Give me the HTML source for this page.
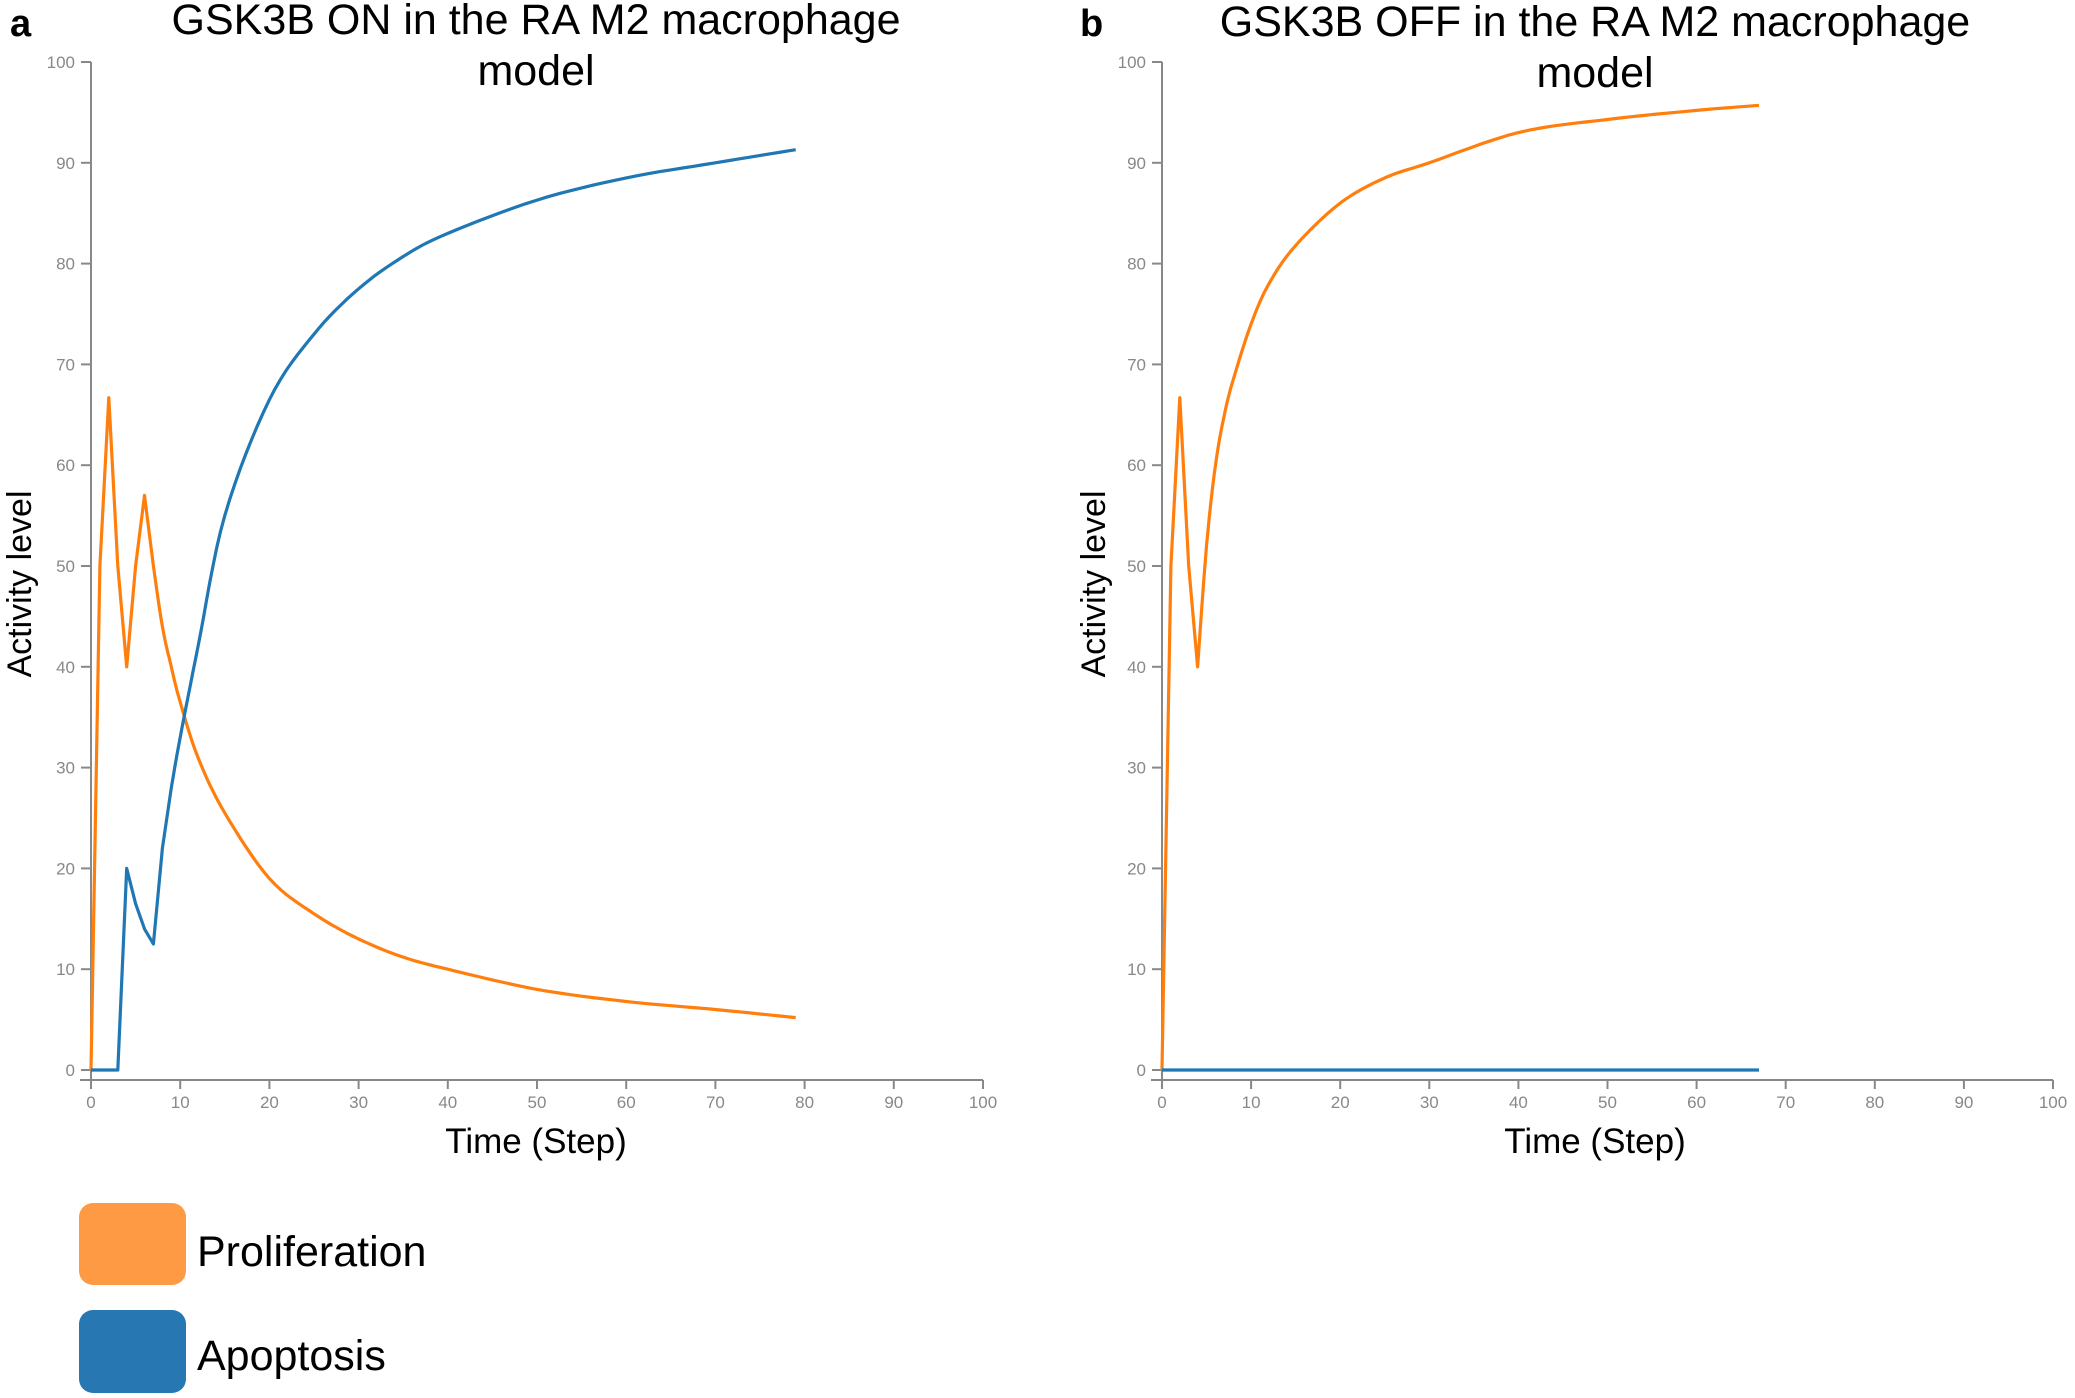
<!DOCTYPE html>
<html><head><meta charset="utf-8"><style>
html,body{margin:0;padding:0;background:#fff;}
svg{display:block;font-family:"Liberation Sans",Arial,sans-serif;}
</style></head><body>
<svg id="s" width="2075" height="1398" viewBox="0 0 2075 1398" xmlns="http://www.w3.org/2000/svg">
<text x="10" y="36" font-size="38" font-weight="bold">a</text>
<text x="536" y="34" font-size="43" text-anchor="middle">GSK3B ON in the RA M2 macrophage</text>
<text x="536" y="85" font-size="43" text-anchor="middle">model</text>
<text x="1080" y="36" font-size="38" font-weight="bold">b</text>
<text x="1595" y="36" font-size="43" text-anchor="middle">GSK3B OFF in the RA M2 macrophage</text>
<text x="1595" y="87" font-size="43" text-anchor="middle">model</text>
<text transform="translate(31,584) rotate(-90)" font-size="34" text-anchor="middle">Activity level</text>
<text transform="translate(1105,584) rotate(-90)" font-size="34" text-anchor="middle">Activity level</text>
<text x="536" y="1153" font-size="35" text-anchor="middle">Time (Step)</text>
<text x="1595" y="1153" font-size="35" text-anchor="middle">Time (Step)</text>
<rect x="79" y="1203" width="107" height="82" rx="14" fill="#fd9a43"/>
<text x="197" y="1266" font-size="43">Proliferation</text>
<rect x="79" y="1310" width="107" height="83" rx="14" fill="#2777b3"/>
<text x="197" y="1370" font-size="43">Apoptosis</text>
<g id="ax"></g>
</svg>
<script>
var NS="http://www.w3.org/2000/svg",g=document.getElementById("ax");
function el(t,a,txt){var e=document.createElementNS(NS,t);for(var k in a)e.setAttribute(k,a[k]);if(txt!=null)e.textContent=txt;g.appendChild(e);return e;}
// linear for head anchors, Catmull-Rom for tail anchors (from index s)
function sample(anch,sm){var out=[];
 for(var i=0;i<anch.length-1;i++){var a=anch[i],b=anch[i+1];
  if(i<sm){out.push(a);continue;}
  var p0=anch[Math.max(i-1,sm)],p3=anch[Math.min(i+2,anch.length-1)];
  for(var k=0;k<8;k++){var u=k/8,u2=u*u,u3=u2*u;
   function cr(j){return 0.5*((2*a[j])+(-p0[j]+b[j])*u+(2*p0[j]-5*a[j]+4*b[j]-p3[j])*u2+(-p0[j]+3*a[j]-3*b[j]+p3[j])*u3);}
   out.push([cr(0),cr(1)]);}
 }
 out.push(anch[anch.length-1]);return out;}
function panel(x0,x1,series){
 var y0=1070,y1=62,ya=1080;
 function X(v){return x0+(x1-x0)*v/100;}function Y(v){return y0+(y1-y0)*v/100;}
 el("line",{x1:x0,y1:y1,x2:x0,y2:ya+8,stroke:"#888","stroke-width":2});
 el("line",{x1:x0-11,y1:ya,x2:x1,y2:ya,stroke:"#888","stroke-width":2});
 for(var v=0;v<=100;v+=10){
  el("line",{x1:x0-10,y1:Y(v),x2:x0,y2:Y(v),stroke:"#888","stroke-width":2});
  el("text",{x:x0-16,y:Y(v)+6,"font-size":17,fill:"#888","text-anchor":"end"},v);
  el("line",{x1:X(v),y1:ya,x2:X(v),y2:ya+9,stroke:"#888","stroke-width":2});
  el("text",{x:X(v),y:1108,"font-size":17,fill:"#888","text-anchor":"middle"},v);
 }
 series.forEach(function(s){
  var pts=sample(s.a,s.sm).map(function(p){return X(p[0]).toFixed(1)+","+Y(p[1]).toFixed(1);});
  el("polyline",{points:pts.join(" "),fill:"none",stroke:s.c,"stroke-width":3.2,"stroke-linejoin":"round"});
 });
}
var O="#ff7f0e",B="#1f77b4";
panel(91,983,[
 {c:O,sm:7,a:[[0,0],[1,50],[2,66.7],[3,50],[4,40],[5,50],[6,57],[7,50],[8,44],[9,40],[10,36.5],[12,31],[15,25.5],[20,19],[25,15.5],[30,13],[35,11.2],[40,10],[50,8],[60,6.8],[70,6],[79,5.2]]},
 {c:B,sm:7,a:[[0,0],[3,0],[4,20],[5,16.5],[6,14],[7,12.5],[8,22],[9,28],[10,33],[12,42],[15,55],[20,66.5],[25,73],[30,77.5],[35,80.7],[40,83],[50,86.3],[60,88.5],[70,90],[79,91.3]]}
]);
panel(1162,2053,[
 {c:O,sm:4,a:[[0,0],[1,50],[2,66.7],[3,50],[4,40],[5,52],[6,60],[7,65],[8,68.5],[10,74],[12,78],[15,81.8],[20,86],[25,88.5],[30,90],[40,93],[50,94.3],[60,95.2],[67,95.7]]},
 {c:B,sm:0,a:[[0,0],[67,0]]}
]);
</script>
</body></html>
